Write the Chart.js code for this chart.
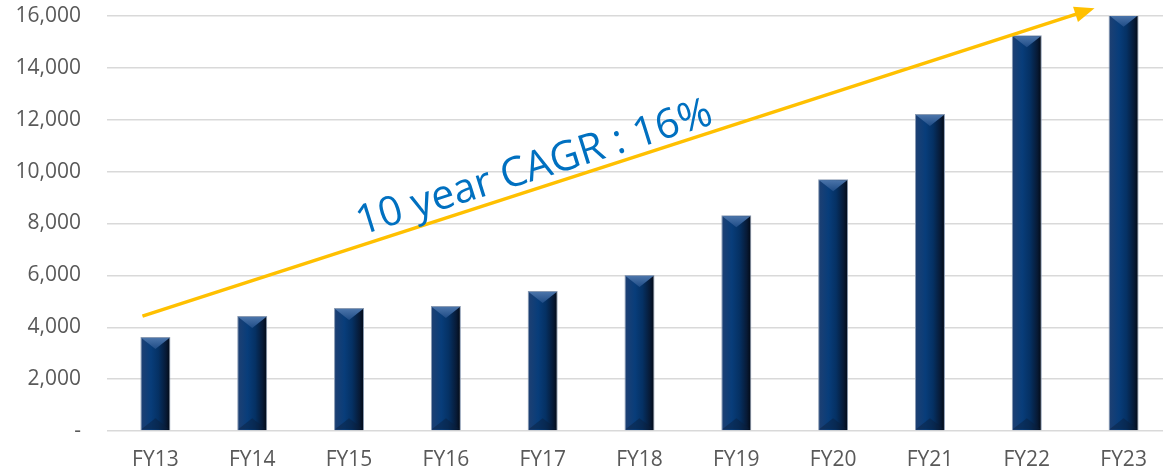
<!DOCTYPE html>
<html>
<head>
<meta charset="utf-8">
<script src="https://cdn.jsdelivr.net/npm/chart.js@4"></script>
<style>
    html, body { margin: 0; padding: 0; background: #fff; overflow: hidden; }
    #wrap { width: 1172px; height: 475px; }
</style>
</head>
<body>
<div id="wrap"><canvas id="revenueChart"></canvas></div>
<script>
const years = ['FY13', 'FY14', 'FY15', 'FY16', 'FY17', 'FY18', 'FY19', 'FY20', 'FY21', 'FY22', 'FY23'];
const values = [3620, 4430, 4740, 4820, 5400, 6010, 8320, 9710, 12220, 15260, 16050];
const yTicks = [0, 2000, 4000, 6000, 8000, 10000, 12000, 14000, 16000];
const cagrLabel = '10 year CAGR : 16%';

const fontFamily = '"Open Sans", "Liberation Sans", sans-serif';

// Горизонтальный градиент для каждого столбика
function barGradient(ctx) {
    const chart = ctx.chart;
    const xScale = chart.scales.x;
    if (!xScale || ctx.dataIndex === undefined) {
        return '#0b2a55';
    }
    const cx = xScale.getPixelForValue(ctx.dataIndex);
    const step = xScale.getPixelForValue(1) - xScale.getPixelForValue(0);
    const w = step * 0.31 / 2;
    if (!isFinite(cx) || !isFinite(w) || w <= 0) {
        return '#0b2a55';
    }
    const g = chart.ctx.createLinearGradient(cx - w, 0, cx + w, 0);
    g.addColorStop(0, '#1f4072');
    g.addColorStop(0.35, '#083d7a');
    g.addColorStop(0.6, '#053164');
    g.addColorStop(0.85, '#071a36');
    g.addColorStop(1, '#020812');
    return g;
}

// Фаски сверху и снизу столбиков
const bevelPlugin = {
    id: 'bevel',
    afterDatasetsDraw(chart) {
        const ctx = chart.ctx;
        const meta = chart.getDatasetMeta(0);
        ctx.save();
        ctx.beginPath();
        ctx.rect(chart.chartArea.left, chart.chartArea.top, chart.chartArea.right - chart.chartArea.left, chart.chartArea.bottom - chart.chartArea.top);
        ctx.clip();
        meta.data.forEach(bar => {
            const p = bar.getProps(['x', 'y', 'base', 'width'], true);
            const l = p.x - p.width / 2 + 1;
            const r = p.x + p.width / 2 - 1;
            const h = 12;
            // верх
            const gt = ctx.createLinearGradient(0, p.y, 0, p.y + h);
            gt.addColorStop(0, '#4f78ad');
            gt.addColorStop(1, '#1f4c86');
            ctx.fillStyle = gt;
            ctx.beginPath();
            ctx.moveTo(l, p.y + 1);
            ctx.lineTo(r, p.y + 1);
            ctx.lineTo(p.x, p.y + h);
            ctx.closePath();
            ctx.fill();
            // низ
            ctx.fillStyle = 'rgba(10, 30, 60, 0.45)';
            ctx.beginPath();
            ctx.moveTo(l, p.base - 1);
            ctx.lineTo(r, p.base - 1);
            ctx.lineTo(p.x, p.base - h);
            ctx.closePath();
            ctx.fill();
        });
        ctx.restore();
    }
};

// Стрелка и подпись CAGR
const cagrPlugin = {
    id: 'cagr',
    afterDraw(chart) {
        const ctx = chart.ctx;
        const xs = chart.scales.x;
        const ys = chart.scales.y;
        const step = xs.getPixelForValue(1) - xs.getPixelForValue(0);
        const x0 = xs.getPixelForValue(0) - 0.134 * step;
        const y0 = ys.getPixelForValue(4430);
        const x1 = xs.getPixelForValue(0) + 9.70 * step;
        const y1 = ys.getPixelForValue(16300);
        const ang = Math.atan2(y1 - y0, x1 - x0);
        const head = 20;
        ctx.save();
        ctx.strokeStyle = '#ffc000';
        ctx.fillStyle = '#ffc000';
        ctx.lineWidth = 3.5;
        ctx.beginPath();
        ctx.moveTo(x0, y0);
        ctx.lineTo(x1 - head * 0.8 * Math.cos(ang), y1 - head * 0.8 * Math.sin(ang));
        ctx.stroke();
        ctx.beginPath();
        ctx.moveTo(x1, y1);
        ctx.lineTo(x1 - head * Math.cos(ang) + 8 * Math.sin(ang), y1 - head * Math.sin(ang) - 8 * Math.cos(ang));
        ctx.lineTo(x1 - head * Math.cos(ang) - 8 * Math.sin(ang), y1 - head * Math.sin(ang) + 8 * Math.cos(ang));
        ctx.closePath();
        ctx.fill();

        const tx = xs.getPixelForValue(0) + 3.95 * step;
        const ty = ys.getPixelForValue(9700);
        ctx.translate(tx, ty);
        ctx.rotate(-17.5 * Math.PI / 180);
        ctx.fillStyle = '#0070c0';
        ctx.font = '41px ' + fontFamily;
        ctx.textAlign = 'center';
        ctx.textBaseline = 'alphabetic';
        ctx.fillText(cagrLabel, 0, 0);
        ctx.restore();
    }
};

const revenueChart = new Chart(document.getElementById('revenueChart'), {
    type: 'bar',
    data: {
        labels: years,
        datasets: [
            {
                label: 'Revenue',
                data: values,
                backgroundColor: barGradient,
                borderColor: '#8a9bb3',
                borderWidth: 1,
                categoryPercentage: 1,
                barPercentage: 0.31,
            }
        ]
    },
    options: {
        responsive: true,
        maintainAspectRatio: false,
        animation: false,
        layout: {
            padding: { top: 16, right: 0, bottom: 0, left: 0 }
        },
        plugins: {
            legend: { display: false },
            tooltip: { enabled: false },
        },
        scales: {
            x: {
                grid: { display: false },
                border: { display: false },
                ticks: {
                    color: '#595959',
                    font: { family: fontFamily, size: 21 },
                    padding: 8,
                },
                afterFit(scale) {
                    scale.height = 44;
                    scale.paddingLeft = 0;
                    scale.paddingRight = 0;
                },
            },
            y: {
                min: 0,
                max: 16000,
                afterBuildTicks(scale) {
                    scale.ticks = yTicks.map(v => ({ value: v }));
                },
                grid: {
                    color: '#d9d9d9',
                    lineWidth: 1.5,
                    drawTicks: false,
                },
                border: { display: false },
                ticks: {
                    color: '#595959',
                    font: { family: fontFamily, size: 21 },
                    padding: 26,
                    callback: v => v === 0 ? '-' : v.toLocaleString('en-US'),
                },
                afterFit(scale) {
                    scale.width = 107;
                    scale.paddingTop = 0;
                    scale.paddingBottom = 0;
                },
            }
        }
    },
    plugins: [bevelPlugin, cagrPlugin],
});
</script>
</body>
</html>
